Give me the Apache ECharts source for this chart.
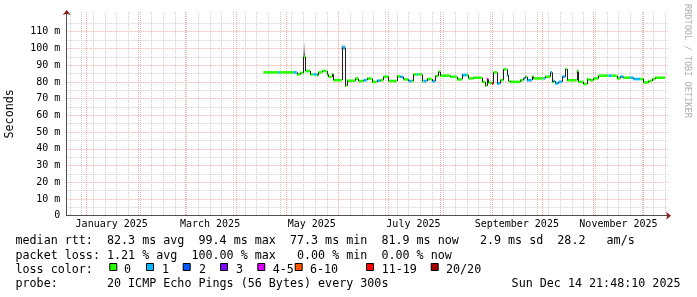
<!DOCTYPE html>
<html><head><meta charset="utf-8">
<script src="https://cdn.jsdelivr.net/npm/echarts@6/dist/echarts.min.js"></script>
<style>html,body{margin:0;padding:0;background:#fff}#c{width:697px;height:297px}</style>
</head><body><div id="c"></div>
<script>
// ---- data ----
const segDates = ['2025-04-17','2025-04-26','2025-04-27','2025-05-05','2025-05-07','2025-05-09','2025-05-11','2025-05-12','2025-05-15','2025-05-17','2025-05-19','2025-05-20','2025-05-22','2025-05-25','2025-05-26','2025-05-28','2025-05-29','2025-06-03','2025-06-05','2025-06-06','2025-06-11','2025-06-13','2025-06-16','2025-06-18','2025-06-21','2025-06-24','2025-06-26','2025-06-28','2025-07-01','2025-07-06','2025-07-08','2025-07-10','2025-07-13','2025-07-15','2025-07-16','2025-07-18','2025-07-19','2025-07-21','2025-07-22','2025-07-24','2025-07-27','2025-07-29','2025-07-31','2025-08-01','2025-08-07','2025-08-11','2025-08-14','2025-08-17','2025-08-18','2025-08-21','2025-08-26','2025-08-28','2025-08-29','2025-08-30','2025-09-01','2025-09-02','2025-09-04','2025-09-06','2025-09-08','2025-09-10','2025-09-11','2025-09-12','2025-09-18','2025-09-20','2025-09-21','2025-09-22','2025-09-25','2025-09-26','2025-10-02','2025-10-03','2025-10-06','2025-10-07','2025-10-08','2025-10-09','2025-10-11','2025-10-13','2025-10-15','2025-10-16','2025-10-22','2025-10-23','2025-10-26','2025-10-28','2025-10-30','2025-11-01','2025-11-04','2025-11-10','2025-11-12','2025-11-15','2025-11-17','2025-11-19','2025-11-23','2025-11-25','2025-11-29','2025-12-01','2025-12-04','2025-12-06','2025-12-08'];
const medianMs = [85.7,85.7,85.7,85.7,84.5,85.3,95,86.5,84.5,84.5,84,85.7,86.5,84.5,83,84.5,81,100.5,77.7,80.7,82,80.5,81,82,80,80.7,81,83.1,80.5,83.3,83,81.5,80.5,80.5,84.5,84.5,84.5,80.5,80.5,81.7,80.5,83.5,86.1,83.7,83.1,81.5,84.1,84.1,82.1,82.5,80,77.7,81.5,79.5,79.1,85.7,79.1,81,87.5,84.1,80.5,80,81,82.1,83.1,81,83.1,82.1,82.1,83.1,85.7,80,80.5,79.1,80,83.1,87.7,81,86.1,80,78.7,81.5,81,82.1,83.7,83.7,83.7,82.1,83.1,82.5,82.5,81.7,81.7,79.7,80.5,81.7,82.5];
const lossClass = [0,1,0,1,0,0,0,0,0,1,0,0,0,0,0,0,0,1,0,0,0,0,1,0,0,1,0,0,0,0,1,0,1,0,0,1,0,0,1,0,1,0,0,0,0,0,1,0,0,0,0,0,4,0,6,0,1,0,0,1,0,0,0,1,0,1,0,0,1,0,1,0,1,1,1,1,0,0,0,0,0,0,0,0,0,1,0,0,1,0,1,1,0,0,0,0,0];
const lastDate = '2025-12-14';
const smokeDates = [['2025-05-11','2025-05-12'],['2025-06-03','2025-06-05'],['2025-10-22','2025-10-23']];
const smokeLow = [94.5, 99.5, 85.5];
const smokeHigh = [103.5, 102.5, 88];

const lossLabels = ['0','1','2','3','4-5','6-10','11-19','20/20'];
const lossColors = ['#26ff00','#00b8ff','#0059ff','#7e00ff','#dd00ff','#ff5500','#ff0000','#a10000'];

const xRange = ['2024-12-20T00:00','2025-12-15T17:00'];
const monthStarts = ['2025-01-01','2025-02-01','2025-03-01','2025-04-01','2025-05-01','2025-06-01','2025-07-01','2025-08-01','2025-09-01','2025-10-01','2025-11-01','2025-12-01'];
const firstSunday = '2024-12-22';
const xLabelDates = ['2025-01-16','2025-03-16','2025-05-16','2025-07-16','2025-09-16','2025-11-16'];
const xLabelTexts = ['January 2025','March 2025','May 2025','July 2025','September 2025','November 2025'];

const yMax = 121.8;
const yMajor = [0,10,20,30,40,50,60,70,80,90,100,110];
const yMajorLabels = ['0','10 m','20 m','30 m','40 m','50 m','60 m','70 m','80 m','90 m','100 m','110 m'];
const yMinor = [5,15,25,35,45,55,65,75,85,95,105,115];

const statLines = [
  'median rtt:  82.3 ms avg  99.4 ms max  77.3 ms min  81.9 ms now   2.9 ms sd  28.2   am/s',
  'packet loss: 1.21 % avg  100.00 % max   0.00 % min  0.00 % now'
];
const probeText = 'probe:       20 ICMP Echo Pings (56 Bytes) every 300s';
const stampText = 'Sun Dec 14 21:48:10 2025';
const sideText = 'RRDTOOL / TOBI OETIKER';

// ---- helpers ----
const ORIGIN = Date.UTC(2025,0,1);
function day(s){ return (Date.parse(s.length > 10 ? s + ':00Z' : s + 'T00:00:00Z') - ORIGIN) / 86400000; }
const X_MIN = day(xRange[0]), X_MAX = day(xRange[1]);
const monthVals = monthStarts.map(day);
const weekVals = [];
for (let d = day(firstSunday); d < X_MAX; d += 7) weekVals.push(d);
const xLabelVals = xLabelDates.map(day);

const segData = segDates.map((s, i) => [day(s), day(i + 1 < segDates.length ? segDates[i + 1] : lastDate), medianMs[i], lossClass[i]]);
const stepData = [];
for (let i = 0; i + 1 < segDates.length; i++) stepData.push([day(segDates[i + 1]), medianMs[i], medianMs[i + 1]]);
const smokeData = smokeDates.map((p, i) => [day(p[0]), day(p[1]), smokeLow[i], smokeHigh[i]]);

const MONO = '"DejaVu Sans Mono", monospace';
const AXC = '#505050', ARC = '#8b1a1a';
const RED = '#f2a7a7', GRAY = '#cfcfcf';
const HIDDEN_LINE = [0, 100000];

function xBase(extra){ return Object.assign({type:'value', min:X_MIN, max:X_MAX, position:'bottom', gridIndex:0,
  axisLine:{show:false, onZero:false}, axisTick:{show:false}, axisLabel:{show:false}, splitLine:{show:false}}, extra); }
function yBase(extra){ return Object.assign({type:'value', min:0, max:yMax, position:'left', gridIndex:0,
  axisLine:{show:false, onZero:false}, axisTick:{show:false}, axisLabel:{show:false}, splitLine:{show:false}}, extra); }

const chart = echarts.init(document.getElementById('c'), null, {renderer:'canvas'});
const legendBoxX = [109.3,146,182.7,220,257.3,294.7,366,430.7];
const legendTextX = [124,162,199,236,272.7,310,381.7,446];
const lineY = [241.2, 255.5, 269.6, 284];

const graphics = [];
statLines.forEach((t, i) => graphics.push({type:'text', x:15.5, y:lineY[i], style:{text:t, font:'11.7px ' + MONO, fill:'#000', verticalAlign:'middle'}}));
graphics.push({type:'text', x:15.5, y:lineY[2], style:{text:'loss color:', font:'11.7px ' + MONO, fill:'#000', verticalAlign:'middle'}});
lossLabels.forEach((l, i) => {
  graphics.push({type:'rect', shape:{x:legendBoxX[i] + 0.5, y:263.5, width:7, height:7}, style:{fill:lossColors[i], stroke:'#000', lineWidth:1}});
  graphics.push({type:'text', x:legendTextX[i], y:lineY[2], style:{text:l, font:'11.7px ' + MONO, fill:'#000', verticalAlign:'middle'}});
});
graphics.push({type:'text', x:15.5, y:lineY[3], style:{text:probeText, font:'11.7px ' + MONO, fill:'#000', verticalAlign:'middle'}});
graphics.push({type:'text', x:680.5, y:lineY[3], style:{text:stampText, font:'11.7px ' + MONO, fill:'#000', verticalAlign:'middle', align:'right'}});
graphics.push({type:'text', x:687, y:4, rotation:-Math.PI/2, style:{text:sideText, font:'8.6px ' + MONO, fill:'#b0b0b0', verticalAlign:'middle', align:'left'}});

chart.setOption({
  animation:false,
  backgroundColor:'#fff',
  grid:{left:66.7, right:29, top:12, bottom:81.3, containLabel:false, outerBoundsMode:'none'},
  xAxis:[
    xBase({axisTick:{show:false, customValues:weekVals}, splitLine:{show:true, lineStyle:{color:GRAY, width:1, type:[1,1]}}}),
    xBase({axisTick:{show:false, customValues:monthVals}, splitLine:{show:true, lineStyle:{color:RED, width:1, type:[1,1]}},
      axisLabel:{show:true, customValues:xLabelVals, formatter:v => xLabelTexts[xLabelVals.indexOf(v)] || '', margin:4,
        fontFamily:MONO, fontSize:10, color:'#000'}}),
    xBase({axisLine:{show:true, onZero:false, symbol:['none','arrow'], symbolSize:[6,5], symbolOffset:[0,3], lineStyle:{color:ARC, width:1, type:HIDDEN_LINE}}}),
    xBase({axisLine:{show:true, onZero:false, lineStyle:{color:AXC, width:1}}})
  ],
  yAxis:[
    yBase({axisTick:{show:false, customValues:yMinor}, splitLine:{show:true, lineStyle:{color:GRAY, width:1, type:[1,1]}}}),
    yBase({axisTick:{show:false, customValues:yMajor}, splitLine:{show:true, lineStyle:{color:RED, width:1, type:[1,1]}},
      axisLabel:{show:true, customValues:yMajor, formatter:v => yMajorLabels[yMajor.indexOf(v)] || '', margin:6.4,
        fontFamily:MONO, fontSize:10, color:'#000'},
      name:'Seconds', nameLocation:'middle', nameGap:50.5, nameRotate:90, nameTextStyle:{fontFamily:MONO, fontSize:11.7, color:'#000'}}),
    yBase({axisLine:{show:true, onZero:false, symbol:['none','arrow'], symbolSize:[6,5], symbolOffset:[0,2], lineStyle:{color:ARC, width:1, type:HIDDEN_LINE}}}),
    yBase({axisLine:{show:true, onZero:false, lineStyle:{color:AXC, width:1}}})
  ],
  series:[
    {type:'custom', xAxisIndex:0, yAxisIndex:0, data:smokeData, encode:{x:[0,1], y:[2,3]}, z:3,
      renderItem:(p, api) => {
        const a = api.coord([api.value(0), api.value(3)]), b = api.coord([api.value(1), api.value(2)]);
        return {type:'rect', shape:{x:a[0], y:a[1], width:b[0]-a[0], height:b[1]-a[1]},
          style:{fill:new echarts.graphic.LinearGradient(0,0,0,1,[{offset:0,color:'#efefef'},{offset:0.6,color:'#a0a0a0'},{offset:1,color:'#303030'}])}};
      }},
    {type:'custom', xAxisIndex:0, yAxisIndex:0, data:segData, encode:{x:[0,1], y:2}, z:4,
      renderItem:(p, api) => {
        const a = api.coord([api.value(0), api.value(2)]), b = api.coord([api.value(1), api.value(2)]);
        return {type:'line', shape:{x1:a[0], y1:a[1], x2:b[0], y2:b[1]}, style:{stroke:lossColors[api.value(3)], lineWidth:2.6}};
      }},
    {type:'custom', xAxisIndex:0, yAxisIndex:0, data:stepData, encode:{x:0, y:[1,2]}, z:5,
      renderItem:(p, api) => {
        const a = api.coord([api.value(0), api.value(1)]), b = api.coord([api.value(0), api.value(2)]);
        return {type:'line', shape:{x1:Math.round(a[0])+0.5, y1:a[1], x2:Math.round(a[0])+0.5, y2:b[1]}, style:{stroke:'#202020', lineWidth:1}};
      }}
  ],
  graphic:graphics
});
</script></body></html>
